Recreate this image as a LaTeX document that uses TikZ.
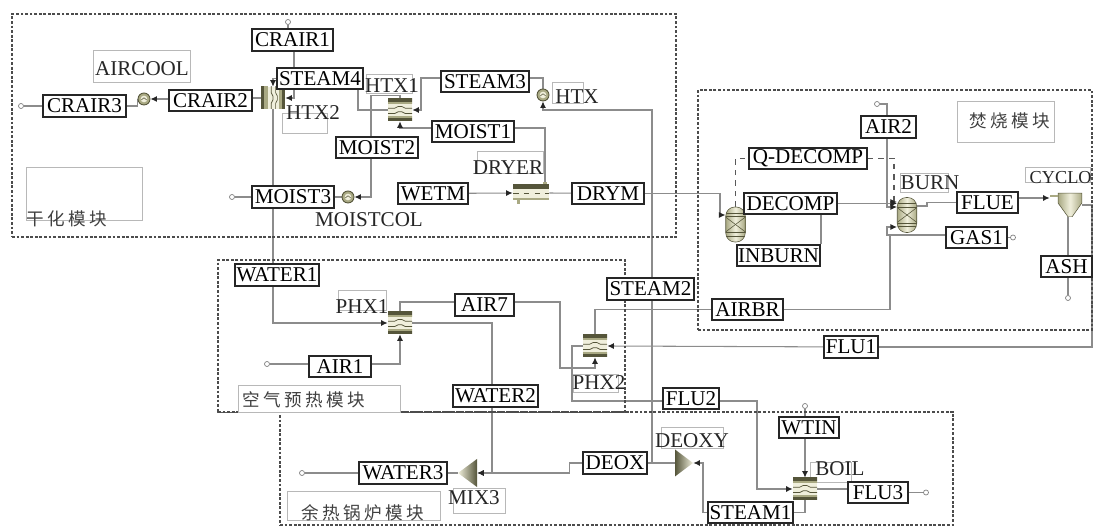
\documentclass[tikz,border=0pt]{standalone}
\usepackage{fontspec}
\setmainfont{Liberation Serif}
\newfontfamily\cjkfont[LetterSpace=19]{Noto Sans CJK SC}
\usepackage{tikz}
\usetikzlibrary{arrows.meta,backgrounds}
\usepackage{xcolor}
\definecolor{unitdark}{HTML}{55553A}
\definecolor{unitmid}{HTML}{A9A983}
\definecolor{unitlight}{HTML}{F0EFDC}
\definecolor{framegray}{HTML}{B8B8B8}
\tikzset{
  stbox/.style={draw=black!85, line width=0.9pt, fill=white, inner sep=0pt, minimum height=0.43cm, font=\fontsize{12}{13}\selectfont},
  namelabel/.style={inner sep=0pt, text=black!85, font=\fontsize{12}{13}\selectfont},
  zonelabel/.style={inner sep=0pt, text=black!75, font=\cjkfont\fontsize{10}{12}\selectfont},
  labelframe/.style={draw=framegray, line width=0.4pt, inner sep=0pt},
  zone/.style={draw=black!70, line width=0.8pt, dash pattern=on 1.6pt off 1pt, inner sep=0pt},
  pipe/.style={draw=black!45, line width=0.6pt},
  feed/.style={pipe, -{Latex[length=1.3mm,width=1.2mm,black!85]}},
  dfeed/.style={feed, draw=black!65, dashed},
  endmark/.style={circle, draw=black!50, line width=0.4pt, inner sep=0pt, minimum size=0.1cm},
  pp/.style={shift={(path picture bounding box.center)}},
  hxunit/.style={rectangle, inner sep=0pt, minimum width=0.48cm, minimum height=0.44cm, fill=unitlight,
    path picture={
      \begin{scope}[pp]
        \fill[unitdark] (-8pt,7pt) rectangle (8pt,4.3pt);
        \fill[unitdark] (-8pt,-7pt) rectangle (8pt,-4.3pt);
        \fill[unitmid] (-8pt,4.3pt) rectangle (8pt,3.2pt);
        \fill[unitmid] (-8pt,-4.3pt) rectangle (8pt,-3.2pt);
        \draw[unitdark, line width=0.4pt] (-8pt,1pt) -- (-3pt,1pt) -- (-1pt,2pt) -- (1pt,2pt) -- (3pt,1pt) -- (8pt,1pt);
        \draw[unitdark, line width=0.4pt] (-8pt,-2pt) -- (-3pt,-2pt) -- (-1pt,-1pt) -- (1pt,-1pt) -- (3pt,-2pt) -- (8pt,-2pt);
      \end{scope}}},
  hxvunit/.style={rectangle, inner sep=0pt, minimum width=0.48cm, minimum height=0.44cm, fill=unitlight,
    path picture={
      \begin{scope}[pp]
        \fill[unitmid] (-7pt,-7pt) rectangle (-3pt,7pt);
        \fill[unitmid] (7pt,-7pt) rectangle (3.6pt,7pt);
        \fill[unitdark] (-7pt,-7pt) rectangle (-5pt,7pt);
        \fill[unitdark] (7pt,-7pt) rectangle (5.4pt,7pt);
        \draw[unitdark, line width=0.4pt] (-1pt,-7pt) -- (-1pt,-3pt) -- (0pt,-1pt) -- (0pt,1pt) -- (-1pt,3pt) -- (-1pt,7pt);
        \draw[unitdark, line width=0.4pt] (1.5pt,-7pt) -- (1.5pt,-3pt) -- (2.5pt,-1pt) -- (2.5pt,1pt) -- (1.5pt,3pt) -- (1.5pt,7pt);
      \end{scope}}},
  heater/.style={circle, inner sep=0pt, minimum size=0.24cm, draw=unitdark, line width=0.5pt, fill=unitmid,
    path picture={
      \begin{scope}[pp]
        \fill[unitlight] (0pt,0pt) circle (1.9pt);
        \draw[unitdark, line width=0.3pt] (-1.5pt,-0.5pt) -- (0pt,0.7pt) -- (1.5pt,-0.5pt);
      \end{scope}}},
  reactor/.style={rectangle, rounded corners=0.18cm, inner sep=0pt, minimum width=0.39cm, minimum height=0.70cm,
    draw=unitdark, line width=0.3pt, left color=unitmid, right color=unitmid, middle color=unitlight,
    path picture={
      \begin{scope}[pp, unitdark, line width=0.3pt]
        \draw (-6pt,-4.5pt) -- (6pt,4.5pt);
        \draw (-6pt,4.5pt) -- (6pt,-4.5pt);
        \draw (-6pt,4.5pt) -- (6pt,4.5pt);
        \draw (-6pt,-4.5pt) -- (6pt,-4.5pt);
        \draw (-6pt,6.5pt) -- (6pt,6.5pt);
        \draw (-6pt,-6.5pt) -- (6pt,-6.5pt);
      \end{scope}}},
  dryerunit/.style={rectangle, inner sep=0pt, minimum width=0.72cm, minimum height=0.42cm,
    path picture={
      \begin{scope}[pp]
        \fill[unitlight] (-10pt,3pt) rectangle (10pt,-3.5pt);
        \fill[unitdark] (-10pt,5.2pt) rectangle (10pt,2.4pt);
        \fill[unitmid] (-10pt,-2.6pt) rectangle (10pt,-4pt);
        \fill[unitmid] (7pt,5.2pt) rectangle (9pt,6pt);
        \fill[unitmid] (-8pt,-4pt) rectangle (-6pt,-6pt);
        \draw[unitdark, line width=0.4pt, dashed] (-10pt,0pt) -- (10pt,0pt);
      \end{scope}}},
  cyclone/.style={rectangle, inner sep=0pt, minimum width=0.64cm, minimum height=0.48cm,
    path picture={
      \begin{scope}[pp]
        \shade[left color=unitmid, right color=unitmid, middle color=unitlight, draw=unitdark, line width=0.3pt]
          (-4.5pt,6.8pt) -- (9pt,6.8pt) -- (9pt,1.1pt) -- (3.4pt,-6.8pt) -- (1.2pt,-6.8pt) -- (-4.5pt,1.1pt) -- cycle;
        \draw[unitmid, line width=1pt] (-9pt,5pt) -- (-4.5pt,5pt);
      \end{scope}}},
  mixleft/.style={rectangle, inner sep=0pt, minimum width=0.38cm, minimum height=0.56cm,
    path picture={
      \shade[left color=unitlight, right color=unitdark] (path picture bounding box.west) -- (path picture bounding box.north east) -- (path picture bounding box.south east) -- cycle;}},
  mixright/.style={rectangle, inner sep=0pt, minimum width=0.36cm, minimum height=0.54cm,
    path picture={
      \shade[left color=unitdark, right color=unitlight] (path picture bounding box.east) -- (path picture bounding box.north west) -- (path picture bounding box.south west) -- cycle;}},
}
\begin{document}
\begin{tikzpicture}[x=0.02cm, y=-0.02cm]
  \useasboundingbox (0,0) rectangle (1093,526);
  % module frames
  \node[zone, minimum width=13.28cm, minimum height=4.46cm] (dryzone) at (344,125.5) {};
  \node[zone, minimum width=7.88cm, minimum height=4.80cm] (burnzone) at (895,210) {};
  \node[zone, minimum width=8.14cm, minimum height=3.04cm] (airzone) at (421.5,336) {};
  \node[zone, minimum width=13.46cm, minimum height=2.26cm] (boilzone) at (616.5,468.5) {};

  % module names
  \node[labelframe, minimum width=2.32cm, minimum height=1.06cm] (dryframe) at (84,193.5) {};
  \node[zonelabel] (dryname) at (67,219) {干化模块};
  \node[labelframe, minimum width=1.94cm, minimum height=0.82cm] (burnframe) at (1005.5,121.5) {};
  \node[zonelabel] (burnname) at (1010,121) {焚烧模块};
  \node[labelframe, fill=white, minimum width=3.24cm, minimum height=0.54cm] (airframe) at (319,398.5) {};
  \node[zonelabel] (airname) at (304,400) {空气预热模块};
  \node[labelframe, minimum width=3.06cm, minimum height=0.58cm] (boilframe) at (363.5,505.5) {};
  \node[zonelabel] (boilname) at (363,513) {余热锅炉模块};

  % block names
  \node[labelframe, minimum width=1.94cm, minimum height=0.64cm] (aircoolframe) at (141.5,66) {};
  \node[namelabel] (aircoolname) at (142,69) {AIRCOOL};
  \node[labelframe, minimum width=0.90cm, minimum height=0.40cm] (htxtwoframe) at (304.5,123) {};
  \node[namelabel] (htxtwoname) at (313,113) {HTX2};
  \node[labelframe, minimum width=0.92cm, minimum height=0.38cm] (htxoneframe) at (389,83.5) {};
  \node[namelabel] (htxonename) at (392,86) {HTX1};
  \node[labelframe, minimum width=0.62cm, minimum height=0.42cm] (htxframe) at (567.5,92.5) {};
  \node[namelabel] (htxname) at (577,97) {HTX};
  \node[labelframe, minimum width=1.32cm, minimum height=0.44cm] (dryerframe) at (510,162) {};
  \node[namelabel] (dryername) at (508,168) {DRYER};
  \node[namelabel] (moistcolname) at (369,220) {MOISTCOL};
  \node[labelframe, minimum width=0.96cm, minimum height=0.40cm] (phxoneframe) at (362,300) {};
  \node[namelabel] (phxonename) at (362,307) {PHX1};
  \node[labelframe, minimum width=0.90cm, minimum height=0.36cm] (phxtwoframe) at (596,383) {};
  \node[namelabel] (phxtwoname) at (599,383) {PHX2};
  \node[labelframe, minimum width=1.04cm, minimum height=0.50cm] (mixframe) at (479,500.5) {};
  \node[namelabel] (mixname) at (474,498) {MIX3};
  \node[labelframe, minimum width=1.24cm, minimum height=0.42cm] (deoxyframe) at (692,437.5) {};
  \node[namelabel] (deoxyname) at (692,441) {DEOXY};
  \node[labelframe, minimum width=0.82cm, minimum height=0.40cm] (boilnameframe) at (830.5,472) {};
  \node[namelabel] (boilname) at (840,469) {BOIL};
  \node[labelframe, minimum width=0.96cm, minimum height=0.38cm] (burnnameframe) at (924,182.5) {};
  \node[namelabel] (burnunitname) at (930,183) {BURN};
  \node[labelframe, minimum width=1.30cm, minimum height=0.30cm] (cycloframe) at (1058,175) {};
  \node[namelabel, anchor=east, font=\fontsize{10.4}{12}\selectfont] (cycloname) at (1092,178) {CYCLO};

  % units
  \node[hxvunit] (htxtwo) at (273,98) {};
  \node[hxunit] (htxone) at (400,110) {};
  \node[heater] (aircool) at (144,99) {};
  \node[heater] (htx) at (543,95) {};
  \node[heater] (moistcol) at (348,197) {};
  \node[dryerunit] (dryer) at (531,193) {};
  \node[reactor] (rinburn) at (735.5,224.5) {};
  \node[reactor] (rburn) at (907,215) {};
  \node[cyclone] (cyclo) at (1066,205) {};
  \node[hxunit] (phxone) at (400,323) {};
  \node[hxunit] (phxtwo) at (595,346) {};
  \node[hxunit] (boil) at (805,489) {};
  \node[mixleft] (mixthree) at (467.5,473) {};
  \node[mixright] (deoxy) at (684,463) {};

  % streams
  \node[stbox, minimum width=1.62cm] (crairone) at (292.5,40) {CRAIR1};
  \node[stbox, minimum width=1.66cm] (crairthree) at (84.5,106) {CRAIR3};
  \node[stbox, minimum width=1.66cm] (crairtwo) at (210.5,100.5) {CRAIR2};
  \node[stbox, minimum width=1.72cm] (steamfour) at (320,78.5) {STEAM4};
  \node[stbox, minimum width=1.64cm] (moisttwo) at (377,147.5) {MOIST2};
  \node[stbox, minimum width=1.64cm] (moistthree) at (293,197) {MOIST3};
  \node[stbox, minimum width=1.40cm] (wetm) at (433,193.5) {WETM};
  \node[stbox, minimum width=1.44cm] (drym) at (608,193.5) {DRYM};
  \node[stbox, minimum width=1.64cm] (moistone) at (473,131.5) {MOIST1};
  \node[stbox, minimum width=1.76cm] (steamthree) at (485,81.5) {STEAM3};
  \node[stbox, minimum width=1.10cm] (airtwo) at (888.5,127) {AIR2};
  \node[stbox, minimum width=2.36cm] (qdecomp) at (808,158.5) {Q-DECOMP};
  \node[stbox, minimum width=1.86cm] (decomp) at (790.5,203.5) {DECOMP};
  \node[stbox, minimum width=1.66cm] (inburn) at (778.5,255.5) {INBURN};
  \node[stbox, minimum width=1.22cm] (flue) at (987.5,202.5) {FLUE};
  \node[stbox, minimum width=1.22cm] (gasone) at (976.5,237.5) {GAS1};
  \node[stbox, minimum width=1.02cm] (ash) at (1066.5,266.5) {ASH};
  \node[stbox, minimum width=1.42cm] (airbr) at (747.5,309.5) {AIRBR};
  \node[stbox, minimum width=1.68cm] (waterone) at (277,275) {WATER1};
  \node[stbox, minimum width=1.18cm] (airseven) at (484.5,305) {AIR7};
  \node[stbox, minimum width=1.24cm] (airone) at (340,366.5) {AIR1};
  \node[stbox, minimum width=1.74cm] (steamtwo) at (650.5,289) {STEAM2};
  \node[stbox, minimum width=1.08cm] (fluone) at (851,347) {FLU1};
  \node[stbox, minimum width=1.70cm] (watertwo) at (495.5,396) {WATER2};
  \node[stbox, minimum width=1.12cm] (flutwo) at (691,398.5) {FLU2};
  \node[stbox, minimum width=1.76cm] (waterthree) at (403,473) {WATER3};
  \node[stbox, minimum width=1.28cm] (deox) at (615,463) {DEOX};
  \node[stbox, minimum width=1.20cm] (wtin) at (809,427.5) {WTIN};
  \node[stbox, minimum width=1.70cm] (steamone) at (750.5,512.5) {STEAM1};
  \node[stbox, minimum width=1.20cm] (fluthree) at (878,492.5) {FLU3};

  % open stream ends
  \node[endmark] (craironeend) at (288,22) {};
  \node[endmark] (crairthreeend) at (21,106) {};
  \node[endmark] (moistend) at (232,197) {};
  \node[endmark] (airtwoend) at (877,104) {};
  \node[endmark] (gasend) at (1013,237.5) {};
  \node[endmark] (ashend) at (1068,298) {};
  \node[endmark] (aironeend) at (267,364) {};
  \node[endmark] (waterend) at (302,473) {};
  \node[endmark] (wtinend) at (805,406) {};
  \node[endmark] (fluend) at (926,492.5) {};

  \begin{scope}[on background layer]
    % drying
    \draw[pipe] (craironeend) -- (craironeend |- crairone.north);
    \draw[feed] (crairone.center -| 294,0) |- (htxtwo.east);
    \draw[pipe] (htxtwo.west) -- (htxtwo.west -| crairtwo.east);
    \draw[feed] (crairtwo |- aircool.east) -- (aircool.east);
    \draw[pipe] (aircool.west) |- (crairthree);
    \draw[pipe] (crairthree) -- (crairthreeend);
    \draw[pipe] (htxone.west) -| (steamfour.south -| 358,0);
    \draw[feed] (steamfour.west) -| (htxtwo.north);
    \draw[feed] (htxtwo.south) |- (phxone.west);
    \draw[feed] (htxone.north) -- ++(0,-3) -| (moistcol.east -| 371,0) -- (moistcol.east);
    \draw[pipe] (moistcol.west) -- (moistthree);
    \draw[pipe] (moistthree) -- (moistend);
    \draw[feed] (moistone |- 0,128) -| (htxone.south);
    \draw[pipe] (dryer.north -| 545,0) |- (moistone |- 0,128);
    \draw[feed] (wetm) -- (dryer.west);
    \draw[pipe] (dryer.east) -- (drym);
    \draw[feed] (drym) -| (720,215) -- (rinburn.west |- 0,215);
    \draw[feed] (steamthree |- 0,78) -| (421,110) -- (htxone.east);
    \draw[pipe] (htx.north) |- (steamthree |- 0,78);
    \draw[feed] (deoxy.west -| 652,0) |- (htx.south |- 0,110) -- (htx.south);
    % burning
    \draw[dfeed, -] (rinburn.north) |- (qdecomp);
    \draw[dfeed] (qdecomp) -| (894,202) -- (rburn.west |- 0,202);
    \draw[feed] (decomp) -- (rburn.west |- decomp);
    \draw[pipe] (decomp.south -| 821,0) -- (inburn.north -| 821,0);
    \draw[feed] (airtwoend) -| (887,207) -- (rburn.west |- 0,207);
    \draw[pipe] (rburn.east |- 0,206) -- ++(10,0) |- (flue);
    \draw[feed] (flue |- 0,198) -- (cyclo.west |- 0,198);
    \draw[pipe] (cyclo.south -| ashend) -- (ashend);
    \draw[pipe] (cyclo.east) -| (1092,347) -- (fluone);
    \draw[feed] (gasone |- 0,235) -| (887,227) -- (rburn.west |- 0,227);
    \draw[pipe] (gasone) -- (gasend);
    \draw[pipe] (airbr) -| (890,235);
    % air preheat
    \draw[feed] (airone |- 0,364) -| (phxone.south);
    \draw[pipe] (airone |- 0,364) -- (aironeend);
    \draw[pipe] (phxone.north) |- (airseven |- 0,302);
    \draw[feed] (airseven |- 0,302) -| (560,368) -| (phxtwo.south);
    \draw[pipe] (phxtwo.north) |- (airbr);
    \draw[feed] (fluone) -- (phxtwo.east);
    \draw[pipe] (phxtwo.west) -| (572,401) -- (flutwo |- 0,401);
    \draw[line width=0.9pt, draw=black!65] (airzone.south west) -- (airzone.south east);
    % boiler
    \draw[feed] (phxone.east) -| (492,473) -- (mixthree.east);
    \draw[pipe] (mixthree.west) -- (waterthree);
    \draw[pipe] (waterthree) -- (waterend);
    \draw[pipe] (deoxy.west) -- (deox);
    \draw[feed] (deox.west) -- ++(-13,0) |- (mixthree.east);
    \draw[feed] (flutwo |- 0,401) -| (757,489) -- (boil.west);
    \draw[feed] (wtinend) -- (boil.north);
    \draw[pipe] (boil.east) -- (fluthree |- boil);
    \draw[pipe] (fluthree) -- (fluend);
    \draw[pipe] (boil.south) |- (steamone);
    \draw[feed] (steamone) -| (703,463) -- (deoxy.east);
  \end{scope}
\end{tikzpicture}
\end{document}
